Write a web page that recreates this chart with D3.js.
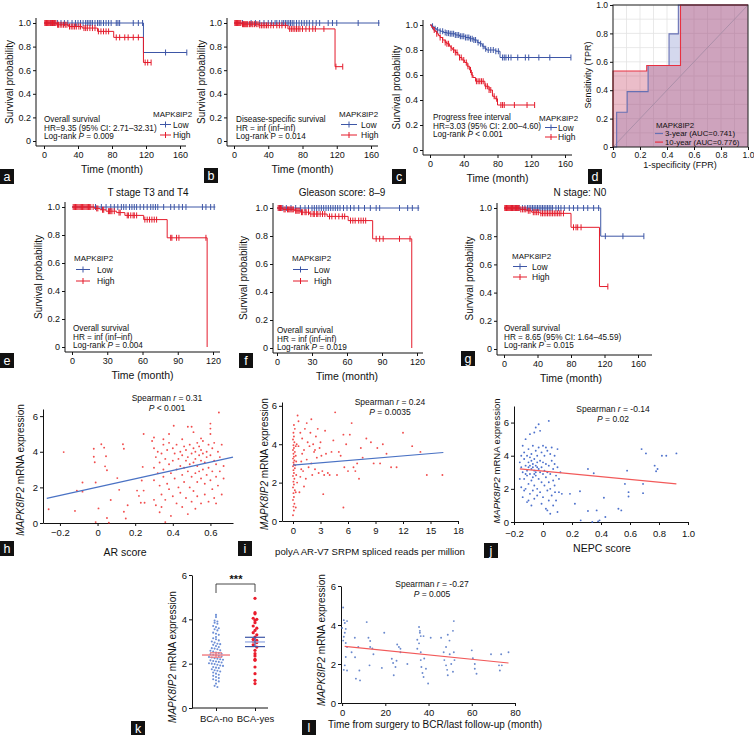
<!DOCTYPE html>
<html>
<head>
<meta charset="utf-8">
<script src="https://cdn.jsdelivr.net/npm/d3@7"></script>
<style>
  body { margin: 0; background: #fff; }
  svg { font-family: "Liberation Sans", Arial, sans-serif; }
</style>
</head>
<body>
<svg id="fig" width="754" height="735"></svg>
<script>
// ---------- data ----------
let kmTicks160 = [0, 40, 80, 120, 160];
let kmTicks120 = [0, 30, 60, 90, 120];
let survTicks = [0, 0.2, 0.4, 0.6, 0.8, 1];

// a: overall survival
let aLowSteps = [[0, 1], [117, 0.75], [168, 0.75]];
let aHighSteps = [[0, 1], [15, 0.985], [29, 0.97], [45, 0.957], [63, 0.929], [82, 0.878], [117, 0.665], [126, 0.665]];
let aLowCensor = [8, 12, 16, 20, 24, 28, 33, 37, 40, 43, 46, 49, 51, 53, 55, 57, 60, 63, 65, 67, 70, 73, 76, 79, 85, 87, 89, 105, 111, 116, 143, 168];
let aHighCensor = [1, 2, 3, 4, 5, 6, 7, 8, 9, 10, 11, 12, 13, 14, 16, 17, 19, 21, 23, 25, 27, 30, 32, 34, 36, 38, 41, 43, 47, 49, 51, 54, 57, 60, 64, 67, 70, 73, 76, 85, 89, 95, 99, 105, 111, 119, 122, 126];

// b: disease-specific survival
let bLowSteps = [[0, 1], [170, 1]];
let bHighSteps = [[0, 1], [9, 0.99], [29, 0.98], [63, 0.95], [118, 0.63], [127, 0.63]];
let bLowCensor = [10, 20, 25, 30, 35, 40, 44, 48, 50, 53, 56, 58, 60, 62, 64, 66, 68, 70, 73, 76, 79, 82, 85, 88, 92, 96, 100, 110, 115, 120, 145, 169];
let bHighCensor = [1, 2, 3, 4, 5, 6, 7, 8, 10, 11, 12, 13, 14, 15, 16, 18, 19, 21, 22, 24, 26, 28, 30, 32, 34, 36, 38, 40, 43, 46, 50, 53, 56, 60, 65, 67, 69, 71, 73, 75, 77, 80, 84, 88, 92, 95, 105, 119, 127];

// c: progress free interval
let cLowSteps = [[0, 1], [2, 0.99], [4, 0.98], [6, 0.97], [8, 0.96], [12, 0.95], [16, 0.94], [20, 0.935], [24, 0.93], [30, 0.92], [35, 0.91], [42, 0.9], [47, 0.89], [52, 0.88], [56, 0.86], [59, 0.85], [62, 0.83], [65, 0.81], [67, 0.8], [78, 0.79], [83, 0.74], [167, 0.74]];
let cHighSteps = [[0, 1], [2, 0.98], [4, 0.96], [6, 0.95], [8, 0.93], [10, 0.915], [12, 0.9], [15, 0.88], [18, 0.86], [20, 0.85], [23, 0.83], [25, 0.815], [27, 0.8], [30, 0.78], [33, 0.76], [35, 0.74], [38, 0.72], [41, 0.7], [44, 0.67], [47, 0.64], [49, 0.6], [51, 0.58], [54, 0.55], [65, 0.51], [70, 0.48], [74, 0.43], [77, 0.41], [80, 0.36], [124, 0.36]];
let cLowCensor = [3, 6, 9, 12, 15, 18, 20, 22, 24, 26, 28, 30, 32, 34, 36, 38, 40, 42, 44, 46, 48, 50, 52, 54, 57, 60, 63, 66, 69, 72, 75, 78, 81, 86, 88, 90, 93, 96, 104, 113, 117, 129, 142, 167];
let cHighCensor = [5, 8, 12, 15, 18, 20, 22, 25, 28, 30, 32, 35, 37, 40, 43, 45, 48, 50, 55, 57, 59, 61, 63, 66, 68, 70, 72, 76, 79, 84, 86, 88, 100, 115, 124];

// d: ROC curves (FPR, TPR)
let roc3 = [[0, 0], [0.027, 0], [0.027, 0.245], [0.105, 0.245], [0.105, 0.39], [0.26, 0.39], [0.26, 0.574], [0.415, 0.574], [0.415, 0.797], [0.484, 0.797], [0.484, 1], [1, 1]];
let roc10 = [[0, 0], [0, 0.535], [0.25, 0.535], [0.25, 0.574], [0.5, 0.574], [0.5, 1], [1, 1]];
let rocTicks = [0, 0.2, 0.4, 0.6, 0.8, 1];

// e: T stage T3 and T4
let eLowSteps = [[0, 1], [122, 1]];
let eHighSteps = [[0, 1], [19, 0.99], [24, 0.98], [29, 0.97], [38, 0.96], [45, 0.94], [61, 0.91], [81, 0.78], [115, 0]];
let eLowCensor = [20, 25, 29, 33, 36, 39, 42, 44, 46, 49, 51, 53, 55, 58, 61, 64, 67, 69, 71, 73, 78, 84, 87, 91, 94, 97, 111, 114, 118, 121];
let eHighCensor = [1, 2, 3, 4, 5, 6, 7, 8, 9, 10, 11, 12, 13, 14, 15, 16, 18, 21, 22, 26, 27, 31, 32, 33, 34, 36, 40, 41, 47, 48, 50, 52, 53, 55, 62, 64, 66, 68, 70, 72, 84, 85, 89, 91, 114];

// f: Gleason score 8-9
let fLowSteps = [[0, 1], [122, 1]];
let fHighSteps = [[0, 1], [5, 0.99], [15, 0.98], [20, 0.97], [28, 0.957], [43, 0.94], [61, 0.91], [82, 0.78], [115.5, 0]];
let fLowCensor = [2, 5, 8, 12, 16, 20, 24, 27, 30, 32, 34, 36, 38, 40, 42, 44, 46, 48, 50, 52, 54, 57, 60, 63, 66, 70, 75, 80, 85, 88, 105, 112, 116, 121];
let fHighCensor = [1, 2, 3, 4, 6, 7, 9, 10, 11, 12, 13, 14, 16, 17, 18, 19, 21, 22, 24, 25, 27, 29, 31, 32, 34, 35, 37, 39, 41, 45, 47, 50, 53, 56, 58, 63, 65, 67, 70, 72, 74, 76, 85, 88, 91, 105, 114];

// g: N stage N0
let gLowSteps = [[0, 1], [115.5, 0.8], [167, 0.8]];
let gHighSteps = [[0, 1], [19, 0.99], [27, 0.98], [33, 0.97], [43, 0.962], [80, 0.863], [114, 0.443], [124, 0.443]];
let gLowCensor = [10, 14, 18, 22, 25, 28, 30, 32, 34, 36, 38, 40, 42, 44, 46, 48, 50, 52, 54, 56, 58, 62, 65, 68, 72, 78, 83, 88, 95, 100, 107, 113, 121, 142, 167];
let gHighCensor = [1, 2, 3, 4, 5, 6, 7, 8, 9, 10, 11, 12, 13, 14, 15, 16, 17, 18, 20, 22, 24, 26, 29, 31, 35, 37, 39, 41, 44, 46, 48, 50, 52, 54, 56, 58, 60, 62, 64, 66, 68, 71, 83, 86, 88, 92, 124];

// h: AR score vs expression
let hPts = [[-0.26, 0.77], [-0.18, 3.98], [-0.12, 0.68], [-0.11, 1.82], [-0.08, 2.27], [-0.08, 1.76], [-0.02, 4.17], [-0.02, 3.72], [-0.015, 3.41], [-0.01, 2.27], [-0.01, 0.05], [0.005, 0.82], [0.02, 4.42], [0.035, 4.23], [0.045, 3.75], [0.04, 3.18], [0.05, 2.96], [0.05, 0.28], [0.06, 0.02], [0.07, 1.29], [0.105, 2.52], [0.115, 1.86], [0.135, 4.42], [0.14, 4.17], [0.14, 0.63], [0.15, 0.25], [0.16, 1.0], [0.21, 1.82], [0.22, 1.52], [0.23, 1.14], [0.235, 2.39], [0.24, 3.15], [0.245, 1.82], [0.25, 1.14], [0.245, 5.0],
  [0.29, 4.6], [0.30, 4.2], [0.30, 3.1], [0.30, 2.4], [0.30, 1.3], [0.31, 1.0], [0.31, 3.7], [0.32, 2.8], [0.32, 4.0], [0.33, 2.1], [0.33, 0.6], [0.33, 3.4], [0.34, 0.9], [0.34, 3.9], [0.34, 1.6], [0.35, 4.4], [0.35, 2.6], [0.35, 3.0], [0.36, 0.05], [0.36, 1.3], [0.36, 3.6], [0.37, 4.1], [0.37, 2.2], [0.38, 3.3], [0.38, 1.9], [0.38, 4.5], [0.39, 2.8], [0.39, 0.4], [0.40, 3.5], [0.40, 4.2], [0.40, 1.5], [0.405, 5.46], [0.41, 2.5], [0.41, 3.9], [0.42, 3.0], [0.42, 1.1], [0.42, 4.4], [0.43, 2.0], [0.43, 3.6], [0.44, 3.2], [0.44, 4.0], [0.44, 1.7], [0.45, 2.7], [0.45, 3.8], [0.45, 0.9], [0.46, 4.3], [0.46, 3.1], [0.46, 2.3], [0.47, 3.5], [0.47, 1.4], [0.47, 4.1], [0.48, 5.4], [0.48, 2.9], [0.48, 3.7], [0.48, 0.5], [0.49, 4.4], [0.49, 3.3], [0.49, 2.0], [0.50, 5.4], [0.50, 3.9], [0.50, 2.6], [0.50, 1.2], [0.51, 5.1], [0.51, 4.2], [0.51, 3.4], [0.51, 1.8], [0.52, 4.0], [0.52, 2.8], [0.52, 3.6], [0.52, 0.8], [0.53, 4.5], [0.53, 3.2], [0.53, 2.3], [0.53, 1.5], [0.54, 3.8], [0.54, 4.3], [0.54, 2.9], [0.55, 3.5], [0.55, 4.1], [0.55, 1.1], [0.55, 2.5], [0.56, 3.9], [0.56, 3.0], [0.56, 4.6], [0.57, 2.2], [0.57, 3.4], [0.57, 1.6], [0.58, 4.0], [0.58, 2.7], [0.58, 3.7], [0.59, 1.2], [0.59, 4.4], [0.59, 3.1], [0.60, 5.3], [0.60, 5.0], [0.60, 2.4], [0.60, 3.8], [0.60, 5.58], [0.61, 1.9], [0.61, 4.2], [0.61, 2.9], [0.62, 3.5], [0.62, 1.4], [0.62, 4.5], [0.63, 2.6], [0.63, 3.3], [0.63, 1.1], [0.64, 4.0], [0.64, 2.1], [0.645, 6.2], [0.65, 2.9], [0.65, 3.7], [0.66, 1.6], [0.66, 4.4], [0.67, 2.5], [0.67, 3.2], [0.3, 4.8], [0.35, 4.7], [0.55, 4.75], [0.45, 4.7], [0.38, 5.0]];
let hFit = [[-0.27, 1.38], [0.72, 3.7]];

// i: AR-V7 reads vs expression
let iPts = [[0.0, 0.3], [0.1, 0.55], [0.05, 0.75], [0.15, 0.9], [0.0, 1.1], [0.1, 1.25], [0.05, 1.45], [0.2, 1.6], [0.0, 1.75], [0.1, 1.9], [0.05, 2.05], [0.15, 2.2], [0.0, 2.35], [0.1, 2.5], [0.05, 2.65], [0.2, 2.75], [0.0, 2.85], [0.1, 2.95], [0.05, 3.05], [0.15, 3.15], [0.0, 3.25], [0.1, 3.35], [0.05, 3.5], [0.2, 3.6], [0.0, 3.7], [0.1, 3.8], [0.05, 3.95], [0.15, 4.1], [0.0, 4.25], [0.1, 4.4], [0.05, 4.6], [0.2, 4.8], [0.1, 5.0], [0.3, 0.7], [0.3, 1.5], [0.35, 2.4], [0.3, 3.4], [0.4, 4.0], [0.45, 2.0], [0.25, 2.9], [0.3, 3.9], [0.35, 3.1],
  [0.5, 5.5], [0.6, 3.9], [0.7, 1.5], [0.8, 2.3], [0.9, 3.1], [1.0, 4.3], [1.1, 2.6], [1.2, 3.7], [1.3, 4.8], [1.4, 2.2], [1.5, 3.2], [1.6, 4.1], [1.7, 2.8], [1.8, 3.9], [1.9, 4.6], [2.0, 3.0], [2.1, 2.4], [2.2, 4.0], [2.3, 3.6], [2.4, 2.7], [2.5, 4.4], [2.6, 3.3], [2.8, 2.5], [2.9, 3.8], [3.0, 4.1], [3.1, 3.4], [3.2, 2.6], [3.3, 1.4], [3.4, 2.4], [3.6, 3.5], [3.8, 2.5], [4.0, 2.4], [4.2, 3.6], [4.4, 4.2], [4.6, 5.66], [4.8, 2.4], [5.0, 3.6], [5.2, 3.4], [5.5, 0.7], [5.6, 2.8], [5.8, 4.0], [6.0, 2.6], [6.2, 4.5], [6.4, 5.1], [6.6, 2.8], [6.8, 2.6], [7.0, 3.0], [7.2, 2.2], [7.4, 3.8], [7.6, 3.3], [8.0, 4.3], [8.5, 4.1], [8.8, 3.0], [9.2, 3.8], [9.5, 3.0], [9.8, 4.0], [10.2, 3.5], [10.7, 2.8], [11.3, 2.8], [12.0, 4.6], [13.0, 3.9], [13.9, 3.6], [14.6, 2.4], [16.3, 2.4], [1.0, 3.5], [2.7, 4.8], [0.8, 4.6], [1.5, 5.1], [3.5, 4.7], [5.5, 4.5], [0.6, 5.2], [2.0, 5.3], [1.2, 1.8], [0.9, 2.7], [2.4, 3.7]];
let iFit = [[0, 2.91], [16.4, 3.57]];

// j: NEPC score vs expression
let jPts = [[-0.15, 3.3], [-0.15, 2.1], [-0.14, 4.6], [-0.14, 3.0], [-0.14, 1.5], [-0.13, 3.8], [-0.13, 2.6], [-0.13, 4.2], [-0.12, 3.4], [-0.12, 2.0], [-0.12, 5.0], [-0.11, 3.1], [-0.11, 2.8], [-0.11, 4.0], [-0.11, 1.2], [-0.10, 3.6], [-0.10, 2.3], [-0.10, 4.4], [-0.10, 3.3], [-0.09, 2.9], [-0.09, 1.7], [-0.09, 3.9], [-0.09, 5.3], [-0.08, 3.2], [-0.08, 2.5], [-0.08, 4.1], [-0.08, 1.0], [-0.07, 3.5], [-0.07, 2.7], [-0.07, 4.6], [-0.07, 1.9], [-0.06, 3.1], [-0.06, 5.4], [-0.06, 3.8], [-0.06, 2.2], [-0.06, 1.4], [-0.05, 3.4], [-0.05, 4.3], [-0.05, 2.8], [-0.05, 5.7], [-0.04, 3.6], [-0.04, 2.0], [-0.04, 4.0], [-0.04, 1.6], [-0.03, 3.2], [-0.03, 5.9], [-0.03, 2.6], [-0.03, 4.5], [-0.02, 3.0], [-0.02, 1.8], [-0.02, 3.7], [-0.02, 5.5], [-0.01, 2.4], [-0.01, 4.2], [-0.01, 3.3], [-0.01, 1.1], [0.0, 2.9], [0.0, 4.6], [0.0, 3.6], [0.0, 1.5], [0.01, 2.2], [0.01, 4.0], [0.01, 3.1], [0.02, 0.8], [0.02, 2.7], [0.02, 4.5], [0.02, 3.5], [0.03, 1.9], [0.03, 3.0], [0.03, 4.3], [0.03, 0.7], [0.04, 6.1], [0.04, 2.4], [0.04, 3.4], [0.04, 1.3], [0.05, 4.1], [0.05, 2.0], [0.05, 2.9], [0.05, 0.5], [0.06, 3.7], [0.06, 1.6], [0.06, 4.5], [0.07, 2.5], [0.07, 3.2], [0.07, 1.0], [0.08, 4.0], [0.08, 2.2], [0.08, 3.5], [0.09, 1.3], [0.09, 2.8], [0.1, 3.3], [0.1, 0.6], [0.1, 4.4], [0.11, 1.8], [0.11, 2.6], [0.12, 3.0], [-0.16, 3.6], [-0.16, 2.6], [-0.15, 4.0], [-0.13, 1.9], [-0.12, 2.9], [-0.1, 1.3], [-0.08, 3.7], [-0.06, 2.9], [-0.05, 3.0], [-0.04, 3.3], [-0.07, 3.3], [-0.09, 3.4],
  [0.083, 1.8], [0.13, 1.7], [0.186, 1.7], [0.22, 1.1], [0.255, 1.86], [0.26, 0.1], [0.31, 0.66], [0.34, 0.0], [0.37, 0.7], [0.38, 0.04], [0.39, 0.1], [0.42, 1.46], [0.43, 0.3], [0.35, 2.94], [0.52, 0.8], [0.54, 0.7], [0.565, 2.3], [0.58, 3.1], [0.59, 1.8], [0.59, 1.54], [0.69, 2.3], [0.69, 1.74], [0.68, 4.4], [0.71, 4.14], [0.77, 3.4], [0.78, 3.06], [0.79, 3.2], [0.82, 4.0], [0.85, 4.0], [0.92, 4.14], [0.31, 3.2]];
let jFit = [[-0.16, 3.2], [0.92, 2.3]];

// k: BCA-no / BCA-yes
let kGroups = ["BCA-no", "BCA-yes"];
let kNo = [4.2, 4.1, 3.95, 3.9, 3.85, 3.8, 3.7, 3.65, 3.6, 3.55, 3.5, 3.4, 3.35, 3.3, 3.2, 3.15, 3.1, 3.05, 3.0, 2.95, 2.9, 2.88, 2.85, 2.8, 2.75, 2.7, 2.68, 2.65, 2.6, 2.58, 2.55, 2.5, 2.48, 2.45, 2.42, 2.4, 2.38, 2.35, 2.32, 2.3, 2.28, 2.25, 2.22, 2.2, 2.18, 2.15, 2.12, 2.1, 2.08, 2.05, 2.02, 2.0, 1.98, 1.95, 1.92, 1.9, 1.85, 1.82, 1.8, 1.75, 1.7, 1.68, 1.65, 1.6, 1.55, 1.5, 1.45, 1.4, 1.35, 1.3, 1.25, 1.2, 1.1, 1.0, 0.95];
let kYes = [4.95, 4.3, 4.25, 4.05, 4.0, 3.95, 3.85, 3.7, 3.6, 3.5, 3.4, 3.3, 3.2, 3.1, 3.05, 3.0, 2.95, 2.85, 2.75, 2.6, 2.45, 2.35, 2.2, 2.15, 1.85, 1.55, 1.25, 1.1];
let kMean = [2.39, 2.98];
let kSem = [0.1, 0.21];

// l: time to BCR vs expression
let lPts = [[0.5, 4.9], [0.8, 4.25], [1.25, 4.1], [1.7, 3.8], [1.25, 3.6], [0.8, 3.4], [0.5, 3.2], [1.7, 3.08], [2.3, 2.87], [1.7, 2.36], [1.25, 1.93], [0.8, 1.7], [2.3, 1.67], [0, 3.85], [2.3, 4.2], [4.4, 2.6], [5.9, 3.35], [6, 2.35], [6.4, 1.25], [7.5, 2.87], [8.3, 1.16], [8, 1.67], [11.4, 4.15], [12.2, 3.35], [13, 3.18], [13, 2.87], [12.7, 1.93], [14, 2.8], [14.5, 2.5], [18.4, 1.8], [19.5, 3.6], [23, 2.27], [23.6, 2.05], [24.7, 1.85], [23.9, 1.42], [25.2, 2.17], [25.5, 3.0], [26.3, 2.87], [27, 2.78], [27, 2.6], [30.2, 2.0], [34.8, 2.78], [34.8, 3.24], [35.6, 3.9], [36, 3.7], [36, 3.6], [36.4, 3.43], [35.6, 3.06], [36.4, 2.6], [36.4, 2.2], [36.7, 1.85], [37.2, 1.54], [37.7, 1.33], [38, 2.28], [38.8, 1.76], [37.7, 3.43], [39.8, 1.0], [41, 3.35], [45.8, 3.35], [47, 2.6], [47.3, 2.2], [48.1, 1.93], [48.6, 1.7], [48.9, 1.42], [48.1, 2.87], [48.9, 3.5], [49.7, 3.2], [49.8, 2.5], [50.5, 2.0], [51.3, 3.7], [51.7, 4.2], [51.7, 2.6], [52, 2.2], [51.3, 1.6], [60, 2.7], [60.5, 2.3], [61.4, 1.76], [62.2, 1.5], [61.4, 2.0], [68.9, 2.5], [72.6, 1.93], [73, 1.67], [73.6, 2.5], [73.9, 1.93], [77, 2.6]];
let lFit = [[1.2, 2.9], [77, 2.05]];

// ---------- drawing ----------
let svg = d3.select("#fig");
svg.append("rect").attr("width", 754).attr("height", 735).attr("fill", "#fff");

let blue = "#3d56a6", red = "#e41b2b";

// text with *italic* parts
function richText(x, y, str, size, anchor, rotate) {
  let t = svg.append("text").attr("x", x).attr("y", y)
    .attr("font-size", size).attr("text-anchor", anchor || "start").attr("fill", "#111");
  if (rotate) t.attr("transform", `rotate(-90,${x},${y})`);
  str.split("*").forEach((s, i) => {
    if (s) t.append("tspan").attr("font-style", i % 2 ? "italic" : null).text(s);
  });
  return t;
}

function panelTag(letter, x, y) {
  svg.append("rect").attr("x", x).attr("y", y).attr("width", 14).attr("height", 15).attr("fill", "#111");
  svg.append("text").attr("x", x + 7).attr("y", y + 11.5).attr("text-anchor", "middle")
    .attr("font-size", 12.5).attr("fill", "#fff").text(letter);
}

function styleAxis(g, size) {
  g.selectAll("text").attr("font-size", size).attr("fill", "#111")
    .attr("font-family", '"Liberation Sans", Arial, sans-serif');
  g.selectAll("line").attr("stroke", "#111");
  g.select(".domain").attr("stroke", "#111");
}

function survAt(steps, t) {
  let s = steps[0][1];
  steps.forEach((p) => { if (p[0] <= t) s = p[1]; });
  return s;
}

function survFmt(d) { return d === 0 ? "0" : d3.format(".1f")(d); }

// Kaplan-Meier panel
function kmPanel(o) {
  let x = d3.scaleLinear().domain([0, o.xMax]).range(o.xRange);
  let y = d3.scaleLinear().domain([0, 1]).range(o.yRange);

  let xa = svg.append("g").attr("transform", `translate(0,${o.axisY})`)
    .call(d3.axisBottom(x).tickValues(o.xTicks).tickSize(3).tickSizeOuter(0).tickPadding(3));
  xa.select(".domain").remove();
  styleAxis(xa, 9);
  svg.append("line").attr("x1", o.axisX).attr("x2", o.axisEnd)
    .attr("y1", o.axisY).attr("y2", o.axisY).attr("stroke", "#111");

  let ya = svg.append("g").attr("transform", `translate(${o.axisX},0)`)
    .call(d3.axisLeft(y).tickValues(survTicks).tickFormat(survFmt).tickSize(3).tickSizeOuter(0).tickPadding(2));
  ya.select(".domain").remove();
  styleAxis(ya, 9);
  svg.append("line").attr("x1", o.axisX).attr("x2", o.axisX)
    .attr("y1", o.yRange[1] - 5).attr("y2", o.axisY).attr("stroke", "#111");

  let line = d3.line().x((d) => x(d[0])).y((d) => y(d[1])).curve(d3.curveStepAfter);
  let groups = [
    { steps: o.low, cens: o.lowC, color: blue },
    { steps: o.high, cens: o.highC, color: red }
  ];
  groups.forEach((gr) => {
    svg.append("path").datum(gr.steps).attr("d", line)
      .attr("fill", "none").attr("stroke", gr.color).attr("stroke-width", 1);
    svg.selectAll(null).data(gr.cens).enter().append("line")
      .attr("x1", (d) => x(d)).attr("x2", (d) => x(d))
      .attr("y1", (d) => y(survAt(gr.steps, d)) - 3)
      .attr("y2", (d) => y(survAt(gr.steps, d)) + 3)
      .attr("stroke", gr.color).attr("stroke-width", 1);
  });

  // axis titles
  richText((o.xRange[0] + o.xRange[1]) / 2, o.axisY + 27, "Time (month)", 10.5, "middle");
  richText(o.yLabX, (o.yRange[0] + o.yRange[1]) / 2, "Survival probability", 10, "middle", true);

  // stats text
  o.stats.forEach((s, i) => richText(o.statX, o.statY + i * 8.5, s, 8.2));

  // legend
  richText(o.legX, o.legY, "MAPK8IP2", 8);
  [["Low", blue], ["High", red]].forEach((lg, i) => {
    let yy = o.legY + o.legGap * (i + 1) - 3;
    svg.append("line").attr("x1", o.legLine[0]).attr("x2", o.legLine[1])
      .attr("y1", yy).attr("y2", yy).attr("stroke", lg[1]);
    let mid = (o.legLine[0] + o.legLine[1]) / 2;
    svg.append("line").attr("x1", mid).attr("x2", mid)
      .attr("y1", yy - 3).attr("y2", yy + 3).attr("stroke", lg[1]);
    richText(o.legLine[1] + o.legText, yy + 3, lg[0], 8.5);
  });
}

kmPanel({
  xMax: 160, xRange: [44, 180], yRange: [141, 23], axisY: 146, axisX: 36, axisEnd: 186, xTicks: kmTicks160,
  low: aLowSteps, high: aHighSteps, lowC: aLowCensor, highC: aHighCensor, yLabX: 13,
  stats: ["Overall survival", "HR=9.35 (95% CI: 2.71\u201332.31)", "Log-rank *P* = 0.009"], statX: 44, statY: 122,
  legX: 153, legY: 117, legGap: 10.5, legLine: [160, 171], legText: 2
});
kmPanel({
  xMax: 160, xRange: [234, 371], yRange: [141, 23], axisY: 146, axisX: 227, axisEnd: 378, xTicks: kmTicks160,
  low: bLowSteps, high: bHighSteps, lowC: bLowCensor, highC: bHighCensor, yLabX: 205,
  stats: ["Disease-specific survival", "HR = inf (inf\u2013inf)", "Log-rank P = 0.014"], statX: 236, statY: 122,
  legX: 339, legY: 117, legGap: 10.5, legLine: [341, 357], legText: 4
});
kmPanel({
  xMax: 160, xRange: [430, 565], yRange: [150, 25], axisY: 155, axisX: 423, axisEnd: 572, xTicks: kmTicks160,
  low: cLowSteps, high: cHighSteps, lowC: cLowCensor, highC: cHighCensor, yLabX: 400,
  stats: ["Progress free interval", "HR=3.03 (95% CI: 2.00\u20134.60)", "Log-rank *P* < 0.001"], statX: 433, statY: 120,
  legX: 539, legY: 121, legGap: 9.5, legLine: [545, 557], legText: 1
});
kmPanel({
  xMax: 120, xRange: [72, 213], yRange: [347, 207], axisY: 352, axisX: 65, axisEnd: 220, xTicks: kmTicks120,
  low: eLowSteps, high: eHighSteps, lowC: eLowCensor, highC: eHighCensor, yLabX: 42,
  stats: ["Overall survival", "HR = inf (inf\u2013inf)", "Log-rank *P* = 0.004"], statX: 73, statY: 331,
  legX: 74, legY: 261, legGap: 11.5, legLine: [76, 90], legText: 7
});
kmPanel({
  xMax: 120, xRange: [277, 417], yRange: [348, 208], axisY: 353, axisX: 273, axisEnd: 423, xTicks: kmTicks120,
  low: fLowSteps, high: fHighSteps, lowC: fLowCensor, highC: fHighCensor, yLabX: 247,
  stats: ["Overall survival", "HR = inf (inf\u2013inf)", "Log-rank *P* = 0.019"], statX: 277, statY: 333,
  legX: 292, legY: 261, legGap: 11.5, legLine: [293, 308], legText: 6
});
kmPanel({
  xMax: 160, xRange: [504, 638], yRange: [349, 208], axisY: 355, axisX: 497, axisEnd: 652, xTicks: kmTicks160,
  low: gLowSteps, high: gHighSteps, lowC: gLowCensor, highC: gHighCensor, yLabX: 473,
  stats: ["Overall survival", "HR = 8.65 (95% CI: 1.64\u201345.59)", "Log-rank *P* = 0.015"], statX: 504, statY: 331,
  legX: 512, legY: 259, legGap: 10.5, legLine: [513, 527], legText: 5
});

// row titles
richText(148, 196, "T stage T3 and T4", 10, "middle");
richText(342, 196, "Gleason score: 8\u20139", 10, "middle");
richText(580, 196, "N stage: N0", 10, "middle");

// ---------- d: ROC ----------
let xd = d3.scaleLinear().domain([0, 1]).range([613, 748]);
let yd = d3.scaleLinear().domain([0, 1]).range([147, 5]);
let gridVals = d3.range(0, 11).map((v) => v / 10);
svg.selectAll(".gx").data(gridVals).enter().append("line")
  .attr("x1", (d) => xd(d)).attr("x2", (d) => xd(d)).attr("y1", yd(0)).attr("y2", yd(1))
  .attr("stroke", "#e3e3e3").attr("stroke-width", 0.8);
svg.selectAll(".gy").data(gridVals).enter().append("line")
  .attr("y1", (d) => yd(d)).attr("y2", (d) => yd(d)).attr("x1", xd(0)).attr("x2", xd(1))
  .attr("stroke", "#e3e3e3").attr("stroke-width", 0.8);

let rocArea = d3.area().x((d) => xd(d[0])).y0(yd(0)).y1((d) => yd(d[1]));
let rocLine = d3.line().x((d) => xd(d[0])).y((d) => yd(d[1]));
svg.append("path").datum(roc3).attr("d", rocArea).attr("fill", "rgb(120,135,200)").attr("fill-opacity", 0.32);
svg.append("path").datum(roc10).attr("d", rocArea).attr("fill", "rgb(195,55,90)").attr("fill-opacity", 0.33);
svg.append("line").attr("x1", xd(0)).attr("y1", yd(0)).attr("x2", xd(1)).attr("y2", yd(1))
  .attr("stroke", "#9d86a0").attr("stroke-width", 0.7);
svg.append("path").datum(roc3).attr("d", rocLine).attr("fill", "none").attr("stroke", "#6670b4").attr("stroke-width", 1.1);
svg.append("path").datum(roc10).attr("d", rocLine).attr("fill", "none").attr("stroke", "#e83040").attr("stroke-width", 1.1);
svg.append("rect").attr("x", xd(0)).attr("y", yd(1)).attr("width", xd(1) - xd(0)).attr("height", yd(0) - yd(1))
  .attr("fill", "none").attr("stroke", "#222").attr("stroke-width", 1);

let xdA = svg.append("g").attr("transform", `translate(0,${yd(0)})`)
  .call(d3.axisBottom(xd).tickValues(rocTicks).tickFormat(survFmt).tickSize(3).tickSizeOuter(0).tickPadding(2));
xdA.select(".domain").remove();
styleAxis(xdA, 8.5);
let ydA = svg.append("g").attr("transform", `translate(${xd(0)},0)`)
  .call(d3.axisLeft(yd).tickValues(rocTicks).tickFormat(survFmt).tickSize(3).tickSizeOuter(0).tickPadding(2));
ydA.select(".domain").remove();
styleAxis(ydA, 8.5);
richText(680, 168, "1-specificity (FPR)", 9, "middle");
richText(591, 75, "Sensitivity (TPR)", 9, "middle", true);
richText(656, 127.5, "MAPK8IP2", 7.8);
[["3-year (AUC=0.741)", "#6670b4"], ["10-year (AUC=0.776)", "#e83040"]].forEach((lg, i) => {
  let yy = 133.5 + i * 8.6;
  svg.append("line").attr("x1", 655).attr("x2", 663).attr("y1", yy).attr("y2", yy).attr("stroke", lg[1]).attr("stroke-width", 1.2);
  richText(665, yy + 2.8, lg[0], 7.8);
});

// ---------- scatter panels ----------
function scatterPanel(o) {
  let x = d3.scaleLinear().domain(o.xDomain).range(o.xRange);
  let y = d3.scaleLinear().domain(o.yDomain).range(o.yRange);
  let xa = svg.append("g").attr("transform", `translate(0,${o.yRange[0]})`)
    .call(d3.axisBottom(x).tickValues(o.xTicks).tickFormat(o.xFmt || d3.format("d")).tickSize(3).tickSizeOuter(0).tickPadding(o.xPad || 3));
  styleAxis(xa, 9.5);
  let ya = svg.append("g").attr("transform", `translate(${o.xRange[0]},0)`)
    .call(d3.axisLeft(y).tickValues([0, 2, 4, 6]).tickFormat(d3.format("d")).tickSize(3).tickSizeOuter(0).tickPadding(2));
  styleAxis(ya, 9.5);

  svg.selectAll(null).data(o.pts).enter().append("circle")
    .attr("cx", (d) => x(d[0])).attr("cy", (d) => y(d[1])).attr("r", o.r || 0.95)
    .attr("fill", o.ptColor).attr("fill-opacity", 0.9);
  svg.append("path").datum(o.fit)
    .attr("d", d3.line().x((d) => x(d[0])).y((d) => y(d[1])))
    .attr("stroke", o.fitColor).attr("stroke-width", 1.2).attr("fill", "none");

  richText(o.statX, o.statY, o.stat1, 8.5, "middle");
  richText(o.statX, o.statY + 10, o.stat2, 8.5, "middle");
  richText(o.xLabX, o.xLabY, o.xLab, o.xLabSize || 10.5, "middle");
  richText(o.yLabX, o.yLabY, "*MAPK8IP2* mRNA expression", o.yLabSize || 10, "middle", true);
}

let decFmt = (d) => (d === 0 ? "0" : d3.format(".1f")(d));
scatterPanel({
  xDomain: [-0.29, 0.72], xRange: [43, 233], yDomain: [0, 6.4], yRange: [523, 409],
  xTicks: [-0.2, 0, 0.2, 0.4, 0.6], xFmt: decFmt,
  pts: hPts, fit: hFit, ptColor: "#f03a3a", fitColor: "#4a72c4",
  statX: 167, statY: 401, stat1: "Spearman *r* = 0.31", stat2: "*P* < 0.001",
  xLab: "AR score", xLabX: 125, xLabY: 556, yLabX: 24, yLabY: 470
});
scatterPanel({
  xDomain: [-1.2, 18], xRange: [282, 458], yDomain: [0, 6.2], yRange: [521, 402],
  xTicks: [0, 3, 6, 9, 12, 15, 18],
  pts: iPts, fit: iFit, ptColor: "#f03a3a", fitColor: "#4a72c4",
  statX: 390, statY: 405, stat1: "Spearman *r* = 0.24", stat2: "*P* = 0.0035",
  xLab: "polyA AR-V7 SRPM spliced reads per million", xLabX: 370, xLabY: 555, xLabSize: 9.6, yLabX: 268, yLabY: 464
});
scatterPanel({
  xDomain: [-0.2, 1.0], xRange: [514, 688], yDomain: [0, 7], yRange: [522, 406],
  xTicks: [-0.2, 0, 0.2, 0.4, 0.6, 0.8, 1.0], xFmt: decFmt, xPad: 5,
  pts: jPts, fit: jFit, ptColor: "#3a62c6", fitColor: "#f25a5a",
  statX: 613, statY: 412, stat1: "Spearman *r* = -0.14", stat2: "*P* = 0.02",
  xLab: "NEPC score", xLabX: 602, xLabY: 552, yLabX: 500, yLabY: 461, yLabSize: 9.5
});
scatterPanel({
  xDomain: [-0.5, 80], xRange: [341, 515], yDomain: [0, 6], yRange: [703, 586],
  xTicks: [0, 20, 40, 60, 80],
  pts: lPts, fit: lFit, ptColor: "#5a7cc8", fitColor: "#f25a5a",
  statX: 432, statY: 587, stat1: "Spearman *r* = -0.27", stat2: "*P* = 0.005",
  xLab: "Time from surgery to BCR/last follow-up (month)", xLabX: 435, xLabY: 728, xLabSize: 10, yLabX: 325, yLabY: 640
});

// ---------- k: dot plot ----------
let xk = d3.scalePoint().domain(kGroups).range([216, 255]);
let yk = d3.scaleLinear().domain([0, 6]).range([708, 575]);
let kxa = svg.append("g").attr("transform", `translate(0,${yk(0)})`)
  .call(d3.axisBottom(xk).tickSize(3).tickSizeOuter(0).tickPadding(4));
kxa.select(".domain").remove();
styleAxis(kxa, 9.5);
svg.append("line").attr("x1", 192).attr("x2", 268).attr("y1", yk(0)).attr("y2", yk(0)).attr("stroke", "#111");
let kya = svg.append("g").attr("transform", "translate(192,0)")
  .call(d3.axisLeft(yk).tickValues([0, 2, 4, 6]).tickFormat(d3.format("d")).tickSize(3).tickSizeOuter(0).tickPadding(2));
styleAxis(kya, 9.5);

// simple swarm: spread values sharing a bin sideways
function swarm(vals, bin, gap) {
  let bins = d3.group(vals, (v) => Math.round(v / bin));
  let out = [];
  bins.forEach((arr) => {
    arr.forEach((v, i) => out.push([v, (i - (arr.length - 1) / 2) * gap]));
  });
  return out;
}
svg.selectAll(null).data(swarm(kNo, 0.14, 2.8)).enter().append("circle")
  .attr("cx", (d) => xk("BCA-no") + d[1]).attr("cy", (d) => yk(d[0])).attr("r", 1.05).attr("fill", "#6d8fd6");
svg.selectAll(null).data(swarm(kYes, 0.14, 3.6)).enter().append("circle")
  .attr("cx", (d) => xk("BCA-yes") + d[1]).attr("cy", (d) => yk(d[0])).attr("r", 1.6).attr("fill", "#ea1c2c");

// mean and SEM bars
[["#f07a80", 14, 6], ["#3d56a6", 10, 10]].forEach((st, i) => {
  let cx = xk(kGroups[i]);
  svg.append("line").attr("x1", cx - st[1]).attr("x2", cx + st[1]).attr("y1", yk(kMean[i])).attr("y2", yk(kMean[i]))
    .attr("stroke", i ? "#9fb2e6" : st[0]).attr("stroke-width", 1.4);
  [kMean[i] - kSem[i], kMean[i] + kSem[i]].forEach((v) => {
    svg.append("line").attr("x1", cx - st[2]).attr("x2", cx + st[2]).attr("y1", yk(v)).attr("y2", yk(v))
      .attr("stroke", st[0]).attr("stroke-width", 1.2);
  });
  svg.append("line").attr("x1", cx).attr("x2", cx).attr("y1", yk(kMean[i] - kSem[i])).attr("y2", yk(kMean[i] + kSem[i]))
    .attr("stroke", st[0]).attr("stroke-width", 1.2);
});
// significance bracket
svg.append("path").attr("d", `M${xk("BCA-no")},593V584H${xk("BCA-yes")}V592`)
  .attr("fill", "none").attr("stroke", "#333").attr("stroke-width", 0.9);
svg.append("text").attr("x", 236).attr("y", 583).attr("text-anchor", "middle")
  .attr("font-size", 11).attr("font-weight", "bold").attr("fill", "#111").text("***");
richText(176, 657, "*MAPK8IP2* mRNA expression", 10, "middle", true);

// ---------- panel tags ----------
[["a", 0, 169], ["b", 204, 168], ["c", 392, 169], ["d", 588, 169],
 ["e", 0, 353], ["f", 239, 353], ["g", 461, 351],
 ["h", 0, 541], ["i", 238, 541], ["j", 484, 543],
 ["k", 131, 721], ["l", 302, 720]].forEach((t) => panelTag(t[0], t[1], t[2]));
</script>
</body>
</html>
